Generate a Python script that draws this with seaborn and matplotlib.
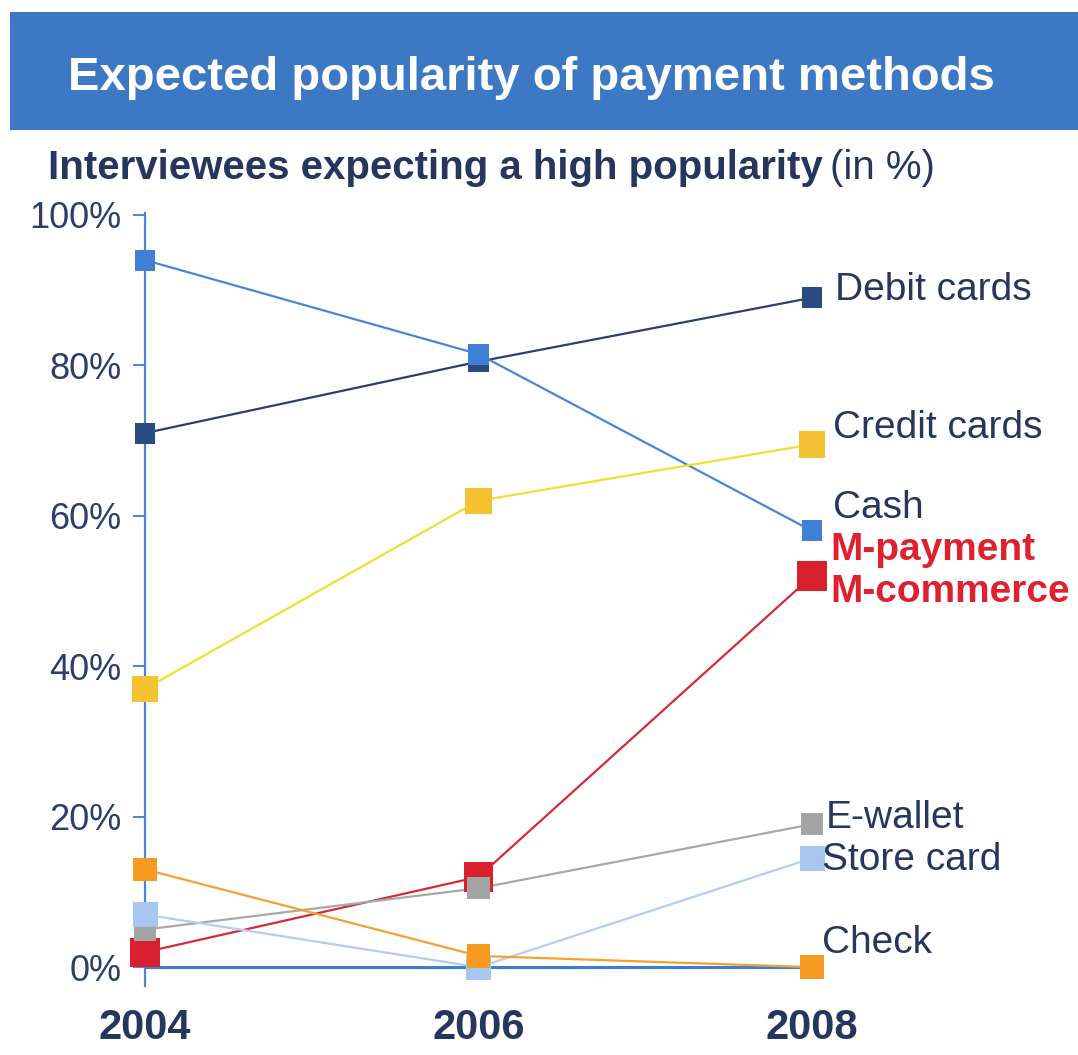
import matplotlib
matplotlib.use("Agg")
import matplotlib.pyplot as plt
import seaborn as sns
import pandas as pd
from matplotlib.patches import Rectangle

years = [2004, 2006, 2008]
debit_cards = [71, 80.5, 89]
cash = [94, 81.5, 58]
credit_cards = [37, 62, 69.5]
m_commerce = [2, 12, 52]
e_wallet = [5, 10.5, 19]
store_card = [7, 0, 14.5]
check = [13, 1.5, 0]

series_names = ["Debit cards", "Cash", "Credit cards", "M-commerce", "E-wallet", "Store card", "Check"]
series_values = [debit_cards, cash, credit_cards, m_commerce, e_wallet, store_card, check]
year_labels = ["2004", "2006", "2008"]
y_ticks = [0, 20, 40, 60, 80, 100]
y_tick_labels = ["0%", "20%", "40%", "60%", "80%", "100%"]

rows = []
for name, vals in zip(series_names, series_values):
    for yr, v in zip(years, vals):
        rows.append({"Year": yr, "Value": v, "Series": name})
df = pd.DataFrame(rows)

line_colors = {
    "Debit cards": "#2b3f73",
    "Cash": "#4a86d8",
    "Credit cards": "#f4dc30",
    "M-commerce": "#d42a3a",
    "E-wallet": "#a8a8a8",
    "Store card": "#b4cdf2",
    "Check": "#f5a030",
}
marker_colors = {
    "Debit cards": "#2a4a82",
    "Cash": "#3f80d6",
    "Credit cards": "#f5c232",
    "M-commerce": "#d8202e",
    "E-wallet": "#a3a3a3",
    "Store card": "#a9c6f0",
    "Check": "#f79a22",
}
marker_sizes = {
    "Debit cards": 15, "Cash": 15, "Credit cards": 19, "M-commerce": 21,
    "E-wallet": 16, "Store card": 18, "Check": 17,
}

sns.set_theme(style="white")
plt.rcParams["font.family"] = ["Liberation Sans", "DejaVu Sans"]

W, H = 1078, 1055
fig = plt.figure(figsize=(W / 100, H / 100), dpi=100)
fig.patch.set_facecolor("white")

# Title banner
fig.patches.append(Rectangle((10 / W, 1 - 130 / H), 1 - 10 / W, 118 / H,
                             transform=fig.transFigure, facecolor="#3d78c4",
                             edgecolor="none", zorder=0))
fig.text(68 / W, 1 - 78 / H, "Expected popularity of payment methods",
         color="white", fontsize=34, fontweight="bold", va="center", ha="left")
fig.text(48 / W, 1 - 168 / H, "Interviewees expecting a high popularity",
         color="#27365f", fontsize=29, fontweight="bold", va="center", ha="left")
fig.text(830 / W, 1 - 168 / H, "(in %)", color="#27365f", fontsize=29,
         va="center", ha="left")

ax_left, ax_right = 145 / W, 1024 / W
ax_bottom, ax_top = 1 - 986 / H, 1 - 212.7 / H
ax = fig.add_axes([ax_left, ax_bottom, ax_right - ax_left, ax_top - ax_bottom])
ax.set_facecolor("none")

# lines
sns.lineplot(data=df, x="Year", y="Value", hue="Series", palette=line_colors,
             linewidth=1.6, legend=False, ax=ax, zorder=2)
# markers
for name in series_names:
    sub = df[df["Series"] == name]
    sns.scatterplot(data=sub, x="Year", y="Value", color=marker_colors[name],
                    marker="s", s=marker_sizes[name] ** 2, edgecolor="none",
                    legend=False, ax=ax, zorder=3, clip_on=False)

ax.set_xlim(2004, 2004 + (1024 - 145) / 166.75)
ax.set_ylim(-2.5, 100.3)

for s in ["top", "right", "bottom"]:
    ax.spines[s].set_visible(False)
ax.spines["left"].set_color("#4a84d4")
ax.spines["left"].set_linewidth(1.6)
ax.spines["left"].set_zorder(1)
ax.hlines(0, 2004, 2008, color="#3a7fd4", linewidth=2.2, zorder=1)

ax.set_yticks(y_ticks)
ax.set_yticklabels(y_tick_labels)
ax.tick_params(axis="y", direction="out", length=9, width=1.4, color="#4a84d4",
               labelsize=26, labelcolor="#2c3d6e", pad=8, left=True)
ax.set_xticks(years)
ax.set_xticklabels(year_labels, fontweight="bold")
ax.tick_params(axis="x", length=0, labelsize=30, labelcolor="#27365f", pad=16)
ax.set_xlabel("")
ax.set_ylabel("")

# right-side labels
labels = [
    ("Debit cards", 835, 290, "#27365f", "normal"),
    ("Credit cards", 833, 428, "#27365f", "normal"),
    ("Cash", 833, 508, "#27365f", "normal"),
    ("M-payment", 830, 550, "#e0202e", "bold"),
    ("M-commerce", 830, 592, "#e0202e", "bold"),
    ("E-wallet", 826, 818, "#27365f", "normal"),
    ("Store card", 822, 860, "#27365f", "normal"),
    ("Check", 822, 943, "#27365f", "normal"),
]
for txt, px, py, col, fw in labels:
    fig.text(px / W, 1 - py / H, txt, color=col, fontsize=28,
             fontweight=fw, va="center", ha="left")

fig.savefig("out.png", dpi=100)
